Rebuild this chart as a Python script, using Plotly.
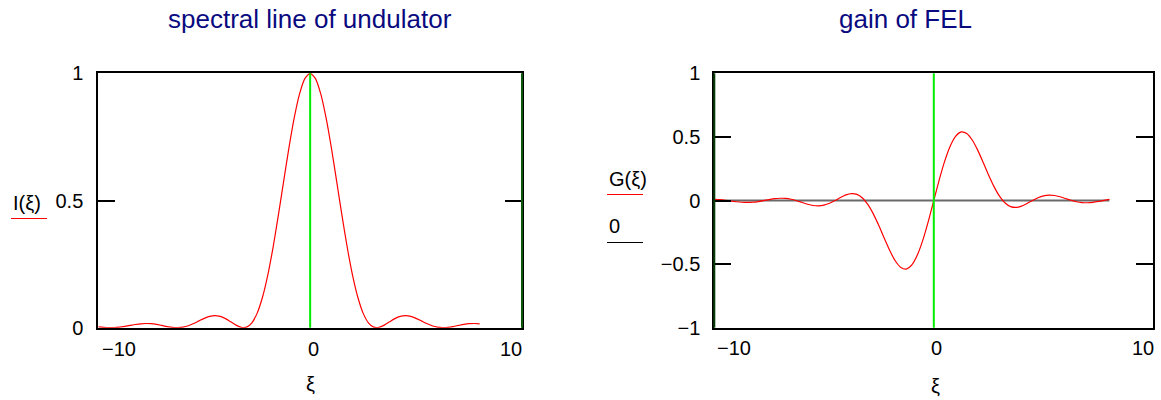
import plotly.graph_objects as go

# ---------------- data ----------------
xi = [-10, -9.75, -9.5, -9.25, -9, -8.75, -8.5, -8.25, -8, -7.75, -7.5, -7.25,
      -7, -6.75, -6.5, -6.25, -6, -5.75, -5.5, -5.25, -5, -4.75, -4.5, -4.25,
      -4, -3.75, -3.5, -3.25, -3, -2.75, -2.5, -2.25, -2, -1.75, -1.5, -1.25,
      -1, -0.75, -0.5, -0.25, 0, 0.25, 0.5, 0.75, 1, 1.25, 1.5, 1.75,
      2, 2.25, 2.5, 2.75, 3, 3.25, 3.5, 3.75, 4, 4.25, 4.5, 4.75,
      5, 5.25, 5.5, 5.75, 6, 6.25, 6.5, 6.75, 7, 7.25, 7.5, 7.75, 8]

I_xi = [0.00296, 0.00107, 0.00006, 0.00035, 0.00210, 0.00510, 0.00883, 0.01251,
        0.01529, 0.01647, 0.01564, 0.01289, 0.00881, 0.00445, 0.00110, 0.00003,
        0.00217, 0.00781, 0.01646, 0.02677, 0.03678, 0.04426, 0.04719, 0.04435,
        0.03580, 0.02323, 0.01005, 0.00111, 0.00221, 0.01926, 0.05731, 0.11959,
        0.20671, 0.31616, 0.44222, 0.57637, 0.70807, 0.82601, 0.91940, 0.97934,
        1.00000,
        0.97934, 0.91940, 0.82601, 0.70807, 0.57637, 0.44222, 0.31616, 0.20671,
        0.11959, 0.05731, 0.01926, 0.00221, 0.00111, 0.01005, 0.02323, 0.03580,
        0.04435, 0.04719, 0.04426, 0.03678, 0.02677, 0.01646, 0.00781, 0.00217,
        0.00003, 0.00110, 0.00445, 0.00881, 0.01289, 0.01564, 0.01647, 0.01529]

G_xi = [0.00854, 0.00615, 0.00165, -0.00408, -0.00974, -0.01391, -0.01538, -0.01349,
        -0.00832, -0.00081, 0.00739, 0.01423, 0.01770, 0.01632, 0.00961, -0.00171,
        -0.01563, -0.02920, -0.03904, -0.04211, -0.03647, -0.02197, -0.00062, 0.02334,
        0.04394, 0.05431, 0.04789, 0.01969, -0.03252, -0.10730, -0.19927, -0.29939,
        -0.39591, -0.47586, -0.52691, -0.53917, -0.50685, -0.42937, -0.31170, -0.16391,
        0.0,
        0.16391, 0.31170, 0.42937, 0.50685, 0.53917, 0.52691, 0.47586, 0.39591,
        0.29939, 0.19927, 0.10730, 0.03252, -0.01969, -0.04789, -0.05431, -0.04394,
        -0.02334, 0.00062, 0.02197, 0.03647, 0.04211, 0.03904, 0.02920, 0.01563,
        0.00171, -0.00961, -0.01632, -0.01770, -0.01423, -0.00739, 0.00081, 0.00832]

zero_line = [0.0] * len(xi)
marker_x = 0

left_xrange = [-10, 10]
left_yrange = [0, 1]
left_yticks = [0, 0.5, 1]
left_yticktext = ["0", "0.5", "1"]
right_xrange = [-10, 10]
right_yrange = [-1, 1]
right_yticks = [-1, -0.5, 0, 0.5, 1]
right_yticktext = ["\u22121", "\u22120.5", "0", "0.5", "1"]
xtick_text = ["\u221210", "0", "10"]

title_left = "spectral line of undulator"
title_right = "gain of FEL"

# ---------------- layout helpers ----------------
W, H = 1161, 400
def px(x):
    return x / W
def py(y):
    return 1 - y / H

FONT = "Liberation Sans, Arial, sans-serif"
NAVY = "#0a0a80"
RED = "#ff0000"
GREEN = "#00ee00"
DKGREEN = "#0b5a0b"

fig = go.Figure()

fig.add_trace(go.Scatter(x=xi, y=I_xi, mode="lines", xaxis="x", yaxis="y",
                         line=dict(color=RED, width=1.2, shape="spline", smoothing=0.6),
                         showlegend=False, hoverinfo="skip"))
fig.add_trace(go.Scatter(x=xi, y=zero_line, mode="lines", xaxis="x2", yaxis="y2",
                         line=dict(color="#6a6a6a", width=2),
                         showlegend=False, hoverinfo="skip"))
fig.add_trace(go.Scatter(x=xi, y=G_xi, mode="lines", xaxis="x2", yaxis="y2",
                         line=dict(color=RED, width=1.2, shape="spline", smoothing=0.6),
                         showlegend=False, hoverinfo="skip"))

# marker lines at xi = 0 (green)
for xr, yr in (("x", "y"), ("x2", "y2")):
    fig.add_shape(type="line", xref=xr, yref=yr + " domain", x0=marker_x, x1=marker_x,
                  y0=0, y1=1, line=dict(color=GREEN, width=2), layer="above")

yd = [py(327.7), py(73.3)]
axis_common = dict(showgrid=False, zeroline=False, showline=True, linecolor="black",
                   linewidth=2, mirror=True, automargin=False)
yaxis_common = dict(ticks="inside", ticklen=17, tickwidth=2, tickcolor="black",
                    showgrid=False, zeroline=False, showline=True, linecolor="black",
                    linewidth=2, mirror="allticks", automargin=False,
                    tickfont=dict(size=20, family=FONT, color="black"))
fig.update_layout(
    template="none",
    width=W, height=H, autosize=False,
    margin=dict(l=0, r=0, t=0, b=0, pad=0, autoexpand=False),
    showlegend=False,
    paper_bgcolor="white", plot_bgcolor="white",
    font=dict(family=FONT, size=20, color="black"),
    xaxis=dict(domain=[px(98.3), px(522)], range=left_xrange, anchor="y",
               showticklabels=False, ticks="", **axis_common),
    yaxis=dict(domain=yd, range=left_yrange, anchor="x", tickvals=left_yticks,
               ticktext=left_yticktext, ticklabelstandoff=9, **yaxis_common),
    xaxis2=dict(domain=[px(714.3), px(1153.3)], range=right_xrange, anchor="y2",
                showticklabels=False, ticks="", **axis_common),
    yaxis2=dict(domain=yd, range=right_yrange, anchor="x2", tickvals=right_yticks,
                ticktext=right_yticktext, ticklabelstandoff=8, **yaxis_common),
)

# coloured vertical borders (Mathcad style)
fig.add_shape(type="line", xref="x domain", yref="y domain", x0=1, x1=1, y0=0, y1=1,
              line=dict(color=DKGREEN, width=2), layer="above")
fig.add_shape(type="line", xref="x2 domain", yref="y2 domain", x0=0, x1=0, y0=0, y1=1,
              line=dict(color="#083d08", width=2), layer="above")

ann = []
def text(s, x, y, anchor="center", size=20, color="black"):
    ann.append(dict(text=s, x=px(x), y=py(y), xref="paper", yref="paper",
                    xanchor=anchor, yanchor="middle", showarrow=False,
                    font=dict(size=size, color=color, family=FONT)))

# titles
text(title_left, 310, 19, size=26, color=NAVY)
text(title_right, 905, 19, size=26, color=NAVY)
# left axis labels
text("I(\u03be)", 11, 203, anchor="left")
text(xtick_text[0], 100, 349, anchor="left")
text(xtick_text[1], 313, 349)
text(xtick_text[2], 524, 349, anchor="right")
text("\u03be", 310, 384)
# right axis labels
text("G(\u03be)", 607, 179, anchor="left")
text("0", 607, 226, anchor="left")
text(xtick_text[0], 715, 348, anchor="left")
text(xtick_text[1], 936, 348)
text(xtick_text[2], 1156, 348, anchor="right")
text("\u03be", 935, 386)
fig.update_layout(annotations=ann)

# legend-like underlines
for (x0, x1, y, c) in ((11, 47, 218.5, RED), (607, 643, 194.5, RED), (607, 643, 242.5, "black")):
    fig.add_shape(type="line", xref="paper", yref="paper", x0=px(x0), x1=px(x1),
                  y0=py(y), y1=py(y), line=dict(color=c, width=1))

fig.write_html("out.html")
